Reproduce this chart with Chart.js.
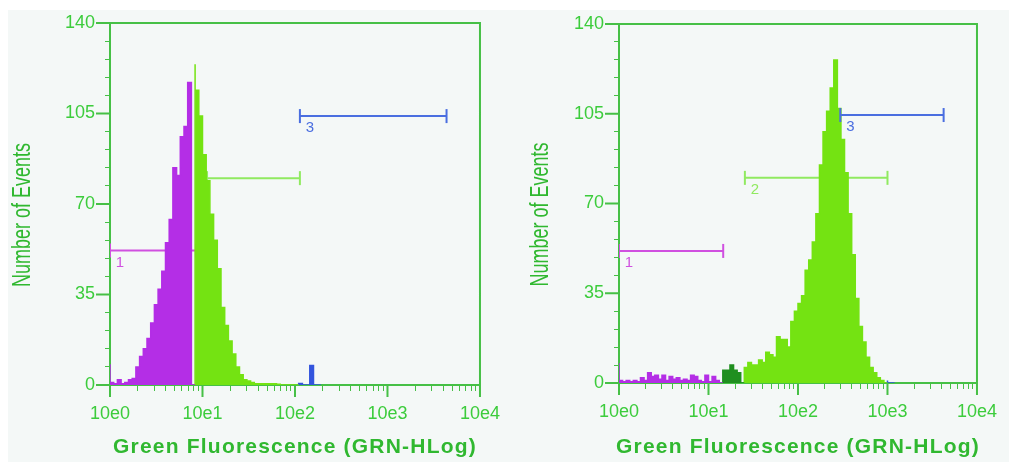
<!DOCTYPE html>
<html>
<head>
<meta charset="utf-8">
<script src="https://cdn.jsdelivr.net/npm/chart.js@4.4.1/dist/chart.umd.min.js"></script>
<style>
  html, body { margin: 0; padding: 0; background: #ffffff; }
  #wrap { position: relative; width: 1009px; height: 462px; overflow: hidden; }
  #bg { position: absolute; left: 8px; top: 10px; right: 0; bottom: 0; background: #f4f8f7; }
  canvas { position: absolute; top: 0; }
  #left { left: 0; }
  #right { left: 505px; }
</style>
</head>
<body>
<div id="wrap">
  <div id="bg"></div>
  <canvas id="left" width="512" height="462"></canvas>
  <canvas id="right" width="504" height="462"></canvas>
</div>
<script>
// histogram channels: 25 bins per decade, bin i starts at 10^(i/25)
const binsPerDecade = 25;

// left panel: counts per bin, split by gate colour
const leftGate1Start = 0;
const leftGate1Counts = [8, 1, 0.5, 2, 0.5, 1, 2, 2.5, 7, 11, 14, 18, 24, 31, 37, 44, 55, 64, 84, 81, 96, 100, 117];
const leftGate2Start = 23;
const leftGate2Counts = [124, 114, 104, 89, 79, 66, 56, 45, 30, 23, 17, 12, 7, 4, 2, 1.5, 1, 0.5, 0.5, 0.5, 0.5, 0.5, 0.5, 0.3, 0, 0, 0, 0];
const leftGate3Start = 51;
const leftGate3Counts = [0, 0.6, 0, 0, 7.5, 0];

// right panel
const rightGate1Start = 0;
const rightGate1Counts = [7.8, 1, 0.5, 1, 0.5, 1, 0.5, 2, 1, 4, 2.5, 3, 1.5, 3, 1, 2.5, 1.5, 2, 1, 1.5, 1, 3, 2.5, 1, 0.5, 3, 0.5, 2.5, 1];
const rightNoGateStart = 29;
const rightNoGateCounts = [4, 5, 5, 7, 5, 4];
const rightGate2Start = 35;
const rightGate2Counts = [5, 6, 8, 7, 7, 9, 8, 12, 11, 10, 18, 17, 17, 14, 24, 28, 31, 34, 44, 48,
                          55, 66, 85, 98, 106, 115, 126, 107, 95, 82, 66, 50, 33, 22, 16, 10, 6, 4, 2, 1];
const rightGate3Start = 75;
const rightGate3Counts = [1, 0];

// marker gates (x from, x to, height)
const leftGateFrom = [1, 11.2, 113];
const leftGateTo = [8.5, 113, 4350];
const leftGateLevel = [52, 80, 104];
const leftGateText = ['1', '', '3'];
const rightGateFrom = [1, 25.5, 297];
const rightGateTo = [14.6, 1000, 4240];
const rightGateLevel = [51.5, 80, 104.5];
const rightGateText = ['1', '2', '3'];

const yLabelled = [0, 35, 70, 105, 140];
const xTitle = 'Green Fluorescence (GRN-HLog)';
const yTitle = 'Number of Events';

const axisGreen = '#46c046';
const labelGreen = '#3ccc3c';
const titleGreen = '#30b830';
const histColors = { g1: '#b42ee6', g2: '#74e312', none: '#1f8f1f', g3: '#3355dd' };
const gateColors = ['#d050e0', '#90ea60', '#4a6ee0'];
const sansFont = '"Liberation Sans", Arial, sans-serif';

function isDecade(v) {
  const e = Math.log10(v);
  return Math.abs(e - Math.round(e)) < 1e-9;
}

function histSeries(start, counts, color) {
  const x0 = Math.pow(10, start / binsPerDecade);
  const pts = [{ x: x0, y: 0 }];
  counts.forEach((c, k) => pts.push({ x: Math.pow(10, (start + k) / binsPerDecade), y: c }));
  pts.push({ x: Math.pow(10, (start + counts.length) / binsPerDecade), y: 0 });
  return {
    data: pts, stepped: 'after', fill: 'origin',
    backgroundColor: color, borderColor: color, borderWidth: 1.5,
    pointRadius: 0, order: 1
  };
}

function gateSeries(from, to, level, text, color, order) {
  return {
    data: [{ x: from, y: level }, { x: to, y: level }],
    borderColor: color, backgroundColor: color, borderWidth: 2,
    pointStyle: 'line', pointRotation: 90, pointRadius: 7,
    pointBorderWidth: 2, pointBorderColor: color,
    fill: false, order: order, gateLabel: text
  };
}

const panelDecor = {
  id: 'panelDecor',
  afterDatasetsDraw(chart) {
    const { ctx, chartArea, scales: { x, y } } = chart;
    ctx.save();
    ctx.strokeStyle = axisGreen;
    ctx.lineWidth = 2;
    ctx.beginPath();
    ctx.moveTo(chartArea.left, chartArea.top);
    ctx.lineTo(chartArea.right, chartArea.top);
    ctx.lineTo(chartArea.right, chartArea.bottom);
    x.ticks.forEach(t => {
      if (isDecade(t.value)) {
        const px = x.getPixelForValue(t.value);
        ctx.moveTo(px, chartArea.bottom);
        ctx.lineTo(px, chartArea.bottom + 12);
      }
    });
    y.ticks.forEach(t => {
      if (yLabelled.includes(t.value)) {
        const py = y.getPixelForValue(t.value);
        ctx.moveTo(chartArea.left - 14, py);
        ctx.lineTo(chartArea.left, py);
      }
    });
    ctx.stroke();

    // gate numbers under the left end of each marker
    ctx.font = '15px ' + sansFont;
    ctx.textAlign = 'center';
    ctx.textBaseline = 'middle';
    chart.data.datasets.forEach((ds, i) => {
      if (!ds.gateLabel) return;
      const p = chart.getDatasetMeta(i).data[0];
      ctx.fillStyle = ds.borderColor;
      ctx.fillText(ds.gateLabel, p.x + 10, p.y + 12);
    });

    // axis titles: spaced bold x title, tall condensed y title
    const o = chart.options.panel;
    ctx.fillStyle = titleGreen;
    ctx.font = 'bold 21px ' + sansFont;
    ctx.letterSpacing = '1.2px';
    ctx.fillText(xTitle, (chartArea.left + chartArea.right) / 2, chart.height - 15);
    ctx.letterSpacing = '0px';
    ctx.font = '26px ' + sansFont;
    const w = ctx.measureText(yTitle).width;
    ctx.translate(o.yTitleX, (chartArea.top + chartArea.bottom) / 2 + 11);
    ctx.rotate(-Math.PI / 2);
    ctx.scale(144 / w, 1);
    ctx.fillText(yTitle, 0, 0);
    ctx.restore();
  }
};

function makePanel(id, datasets, box) {
  return new Chart(document.getElementById(id), {
    type: 'line',
    data: { datasets: datasets },
    options: {
      responsive: false,
      animation: false,
      devicePixelRatio: 1,
      panel: box,
      layout: { padding: { top: box.top, right: box.right, left: 0, bottom: 0 } },
      plugins: { legend: { display: false }, tooltip: { enabled: false } },
      scales: {
        x: {
          type: 'logarithmic',
          min: 1,
          max: 10000,
          afterBuildTicks: s => {
            s.ticks = s.ticks.filter(t => {
              const m = t.value / Math.pow(10, Math.floor(Math.log10(t.value) + 1e-9));
              return Math.abs(m - Math.round(m)) < 1e-6;
            });
          },
          afterFit: s => { s.height = box.xHeight; },
          ticks: {
            autoSkip: false, maxRotation: 0, padding: 12,
            color: labelGreen,
            font: { family: sansFont, size: 18 },
            callback: v => isDecade(v) ? '10e' + Math.round(Math.log10(v)) : ''
          },
          grid: { drawOnChartArea: false, tickLength: 6, color: axisGreen, lineWidth: 1 },
          border: { color: axisGreen, width: 2 }
        },
        y: {
          min: 0,
          max: 140,
          afterFit: s => { s.width = box.yWidth; },
          ticks: {
            stepSize: 7, autoSkip: false, padding: 10,
            color: labelGreen,
            font: { family: sansFont, size: 18 },
            callback: v => yLabelled.includes(v) ? String(v) : ''
          },
          grid: { drawOnChartArea: false, tickLength: 5, color: axisGreen, lineWidth: 1 },
          border: { color: axisGreen, width: 2 }
        }
      }
    },
    plugins: [panelDecor]
  });
}

const leftSets = [
  histSeries(leftGate1Start, leftGate1Counts, histColors.g1),
  histSeries(leftGate2Start, leftGate2Counts, histColors.g2),
  histSeries(leftGate3Start, leftGate3Counts, histColors.g3)
];
const rightSets = [
  histSeries(rightGate1Start, rightGate1Counts, histColors.g1),
  histSeries(rightNoGateStart, rightNoGateCounts, histColors.none),
  histSeries(rightGate2Start, rightGate2Counts, histColors.g2),
  histSeries(rightGate3Start, rightGate3Counts, histColors.g3)
];
for (let g = 0; g < 3; g++) {
  // gate 3 sits on top of the histogram, gates 1 and 2 behind it
  const order = g === 2 ? 0 : 2;
  leftSets.push(gateSeries(leftGateFrom[g], leftGateTo[g], leftGateLevel[g], leftGateText[g], gateColors[g], order));
  rightSets.push(gateSeries(rightGateFrom[g], rightGateTo[g], rightGateLevel[g], rightGateText[g], gateColors[g], order));
}

makePanel('left', leftSets, { top: 23, right: 28, yWidth: 110, xHeight: 77, yTitleX: 23 });
makePanel('right', rightSets, { top: 24, right: 21, yWidth: 114, xHeight: 79, yTitleX: 36 });
</script>
</body>
</html>
